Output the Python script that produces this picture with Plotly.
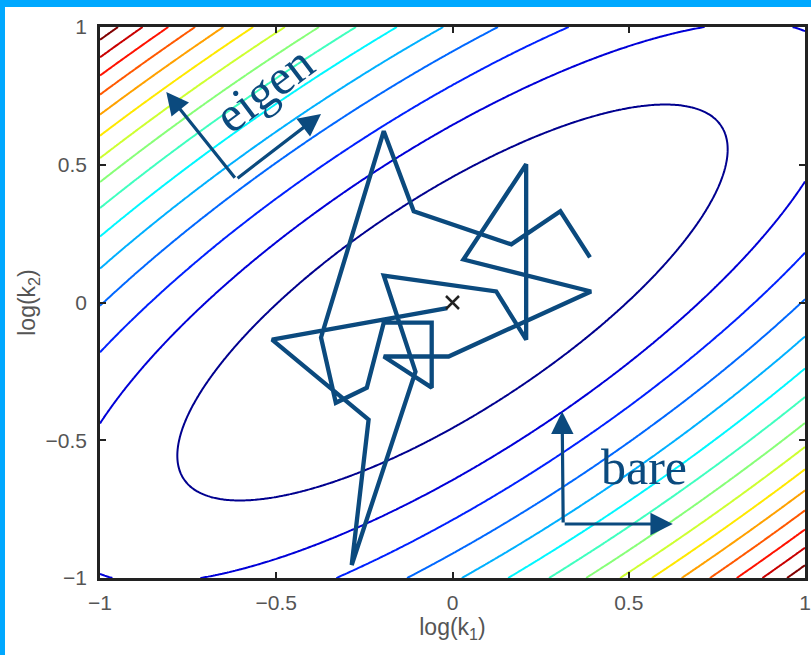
import numpy as np
import plotly.graph_objects as go

# ---- data ----
# quadratic cost surface f = A*x^2 + B*y^2 + 2*C*x*y  (x = log k1, y = log k2)
COEF_A = 1.0
COEF_B = 1.18
COEF_C = -0.84
LEVEL_START = 0.245
LEVEL_STEP = 0.245
N_LEVELS = 15

# random-walk path (log k1, log k2)
walk_x = [-0.015, -0.512, -0.238, -0.286, -0.105, -0.195, 0.124, 0.209, 0.209, 0.031,
          0.393, -0.011, -0.195, -0.059, -0.059, -0.195, -0.243, -0.331, -0.373, -0.195,
          -0.110, 0.167, 0.306, 0.390]
walk_y = [-0.020, -0.135, -0.425, -0.953, -0.251, 0.098, 0.040, -0.135, 0.502, 0.156,
          0.040, -0.196, -0.196, -0.309, -0.073, -0.073, -0.309, -0.364, -0.127, 0.622,
          0.331, 0.211, 0.331, 0.164]

# optimum marker
opt_x = [0.0]
opt_y = [0.0]

# basis arrows: (tail x, tail y, head x, head y)
eigen_arrows = [(-0.614, 0.447, -0.812, 0.764), (-0.614, 0.447, -0.373, 0.684)]
bare_arrows = [(0.314, -0.804, 0.311, -0.396), (0.314, -0.804, 0.625, -0.804)]

tick_vals = [-1, -0.5, 0, 0.5, 1]
tick_text = ["\u22121", "\u22120.5", "0", "0.5", "1"]

# ---- figure ----
gx = np.linspace(-1, 1, 301)
gy = np.linspace(-1, 1, 301)
X, Y = np.meshgrid(gx, gy)
Z = COEF_A * X**2 + COEF_B * Y**2 + 2 * COEF_C * X * Y

# MATLAB-style jet colormap (first level -> dark blue, last level -> dark red)
jet = [[0.0, "rgb(0,0,143)"], [0.11, "rgb(0,0,255)"], [0.365, "rgb(0,255,255)"],
       [0.62, "rgb(255,255,0)"], [0.875, "rgb(255,0,0)"], [1.0, "rgb(128,0,0)"]]

level_end = LEVEL_START + (N_LEVELS - 1) * LEVEL_STEP

fig = go.Figure()
fig.add_trace(go.Contour(
    x=gx, y=gy, z=Z, autocontour=False,
    contours=dict(start=LEVEL_START, end=level_end + 1e-6, size=LEVEL_STEP,
                  coloring="lines", showlabels=False),
    line=dict(width=2), colorscale=jet,
    showscale=False, hoverinfo="skip"))

NAVY = "#0b4a7e"
fig.add_trace(go.Scatter(x=walk_x, y=walk_y, mode="lines",
                         line=dict(color=NAVY, width=4.3), showlegend=False))
fig.add_trace(go.Scatter(x=opt_x, y=opt_y, mode="markers",
                         marker=dict(symbol="x-thin", size=13, line=dict(color="#222", width=2.5)),
                         showlegend=False))

annotations = []
for (tx, ty, hx, hy) in eigen_arrows + bare_arrows:
    annotations.append(dict(x=hx, y=hy, ax=tx, ay=ty, xref="x", yref="y", axref="x", ayref="y",
                            text="", showarrow=True, arrowhead=2, arrowsize=1.4,
                            arrowwidth=3.2, arrowcolor=NAVY, standoff=0, startstandoff=0))
annotations.append(dict(x=-0.535, y=0.775, xref="x", yref="y", text="eigen", showarrow=False,
                        textangle=-37, font=dict(family="Liberation Serif", size=50, color=NAVY)))
annotations.append(dict(x=0.543, y=-0.596, xref="x", yref="y", text="bare", showarrow=False,
                        font=dict(family="Liberation Serif", size=50, color=NAVY)))

W, H = 811, 655
ML, MR, MT, MB = 100, 6, 27, 77
pw, ph = W - ML - MR, H - MT - MB
shapes = [
    # cyan frame (left and top strips)
    dict(type="rect", xref="paper", yref="paper",
         x0=-ML / pw, x1=(5 - ML) / pw, y0=-MB / ph, y1=(H - MB) / ph,
         fillcolor="#00a8ff", line=dict(width=0), layer="above"),
    dict(type="rect", xref="paper", yref="paper",
         x0=-ML / pw, x1=(W - ML) / pw, y0=(H - MB - 7) / ph, y1=(H - MB) / ph,
         fillcolor="#00a8ff", line=dict(width=0), layer="above"),
]

axis_common = dict(range=[-1, 1], tickvals=tick_vals, ticktext=tick_text, ticks="inside",
                   ticklen=6, tickwidth=1.5, tickcolor="#222", showline=True, linewidth=2.5,
                   linecolor="#222", mirror="ticks", showgrid=False, zeroline=False,
                   tickfont=dict(family="Liberation Sans", size=21, color="#555"),
                   automargin=False)

fig.update_layout(
    width=W, height=H, margin=dict(l=ML, r=MR, t=MT, b=MB),
    paper_bgcolor="white", plot_bgcolor="white",
    xaxis=dict(**axis_common, ticklabelstandoff=4,
               title=dict(text="log(k<sub>1</sub>)", standoff=4,
                          font=dict(family="Liberation Sans", size=23, color="#555"))),
    yaxis=dict(**axis_common, ticklabelstandoff=6,
               title=dict(text="log(k<sub>2</sub>)", standoff=4,
                          font=dict(family="Liberation Sans", size=23, color="#555"))),
    annotations=annotations, shapes=shapes, showlegend=False,
)

fig.write_html("out.html", config={"displayModeBar": False},
               post_script="document.body.style.margin='0';")
